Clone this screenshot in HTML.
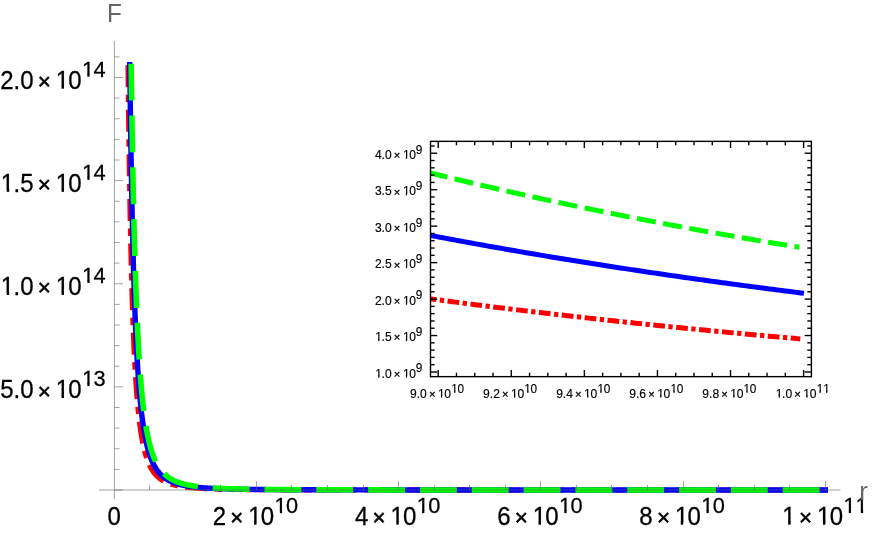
<!DOCTYPE html>
<html><head><meta charset="utf-8"><title>F(r) plot</title>
<style>html,body{margin:0;padding:0;background:#fff;overflow:hidden}body{width:872px;height:533px;font-family:"Liberation Sans",sans-serif}svg{display:block;will-change:transform}text{font-kerning:none;font-variant-ligatures:none}</style></head><body>
<svg width="872" height="533" viewBox="0 0 872 533" font-family="Liberation Sans, sans-serif">
<rect width="872" height="533" fill="#fff"/>
<defs><clipPath id="k0"><rect x="-2" y="-25.20" width="30.24" height="22.82"/></clipPath><clipPath id="k1"><rect x="-2" y="-22.80" width="27.36" height="20.60"/></clipPath><clipPath id="k2"><rect x="-2" y="-12.50" width="15.00" height="11.07"/></clipPath><clipPath id="k3"><rect x="-2" y="-12.00" width="14.40" height="10.60"/></clipPath></defs>
<text transform="translate(0.14,88.70) scale(0.9524,1)" font-size="25.20" fill="#000" stroke="#000" stroke-width="0.30">2.0</text>
<text x="37.70" y="89.20" font-size="22.30" stroke="#000" stroke-width="0.60">×</text>
<text transform="translate(55.68,88.70) scale(0.9524,1)" font-size="25.20" fill="#000" stroke="#000" stroke-width="0.30" clip-path="url(#k0)">1</text>
<rect x="61.56" y="85.52" width="2.42" height="3.18" fill="#000"/>
<text transform="translate(68.30,88.70) scale(0.9524,1)" font-size="25.20" fill="#000" stroke="#000" stroke-width="0.30">0</text>
<text transform="translate(82.01,76.70) scale(0.9561,1)" font-size="22.80" fill="#000" stroke="#000" stroke-width="0.27" clip-path="url(#k1)">1</text>
<rect x="87.35" y="73.70" width="2.20" height="3.00" fill="#000"/>
<text transform="translate(93.48,76.70) scale(0.9561,1)" font-size="22.80" fill="#000" stroke="#000" stroke-width="0.27">4</text>
<text transform="translate(0.86,191.82) scale(0.9524,1)" font-size="25.20" fill="#000" stroke="#000" stroke-width="0.30" clip-path="url(#k0)">1</text>
<rect x="6.75" y="188.64" width="2.42" height="3.18" fill="#000"/>
<text transform="translate(13.49,191.82) scale(0.9524,1)" font-size="25.20" fill="#000" stroke="#000" stroke-width="0.30">.5</text>
<text x="37.70" y="192.32" font-size="22.30" stroke="#000" stroke-width="0.60">×</text>
<text transform="translate(55.68,191.82) scale(0.9524,1)" font-size="25.20" fill="#000" stroke="#000" stroke-width="0.30" clip-path="url(#k0)">1</text>
<rect x="61.56" y="188.64" width="2.42" height="3.18" fill="#000"/>
<text transform="translate(68.30,191.82) scale(0.9524,1)" font-size="25.20" fill="#000" stroke="#000" stroke-width="0.30">0</text>
<text transform="translate(82.01,179.82) scale(0.9561,1)" font-size="22.80" fill="#000" stroke="#000" stroke-width="0.27" clip-path="url(#k1)">1</text>
<rect x="87.35" y="176.82" width="2.20" height="3.00" fill="#000"/>
<text transform="translate(93.48,179.82) scale(0.9561,1)" font-size="22.80" fill="#000" stroke="#000" stroke-width="0.27">4</text>
<text transform="translate(0.86,294.95) scale(0.9524,1)" font-size="25.20" fill="#000" stroke="#000" stroke-width="0.30" clip-path="url(#k0)">1</text>
<rect x="6.75" y="291.77" width="2.42" height="3.18" fill="#000"/>
<text transform="translate(13.49,294.95) scale(0.9524,1)" font-size="25.20" fill="#000" stroke="#000" stroke-width="0.30">.0</text>
<text x="37.70" y="295.45" font-size="22.30" stroke="#000" stroke-width="0.60">×</text>
<text transform="translate(55.68,294.95) scale(0.9524,1)" font-size="25.20" fill="#000" stroke="#000" stroke-width="0.30" clip-path="url(#k0)">1</text>
<rect x="61.56" y="291.77" width="2.42" height="3.18" fill="#000"/>
<text transform="translate(68.30,294.95) scale(0.9524,1)" font-size="25.20" fill="#000" stroke="#000" stroke-width="0.30">0</text>
<text transform="translate(82.01,282.95) scale(0.9561,1)" font-size="22.80" fill="#000" stroke="#000" stroke-width="0.27" clip-path="url(#k1)">1</text>
<rect x="87.35" y="279.95" width="2.20" height="3.00" fill="#000"/>
<text transform="translate(93.48,282.95) scale(0.9561,1)" font-size="22.80" fill="#000" stroke="#000" stroke-width="0.27">4</text>
<text transform="translate(0.14,398.07) scale(0.9524,1)" font-size="25.20" fill="#000" stroke="#000" stroke-width="0.30">5.0</text>
<text x="37.70" y="398.57" font-size="22.30" stroke="#000" stroke-width="0.60">×</text>
<text transform="translate(55.68,398.07) scale(0.9524,1)" font-size="25.20" fill="#000" stroke="#000" stroke-width="0.30" clip-path="url(#k0)">1</text>
<rect x="61.56" y="394.89" width="2.42" height="3.18" fill="#000"/>
<text transform="translate(68.30,398.07) scale(0.9524,1)" font-size="25.20" fill="#000" stroke="#000" stroke-width="0.30">0</text>
<text transform="translate(82.01,386.07) scale(0.9561,1)" font-size="22.80" fill="#000" stroke="#000" stroke-width="0.27" clip-path="url(#k1)">1</text>
<rect x="87.35" y="383.07" width="2.20" height="3.00" fill="#000"/>
<text transform="translate(93.48,386.07) scale(0.9561,1)" font-size="22.80" fill="#000" stroke="#000" stroke-width="0.27">3</text>
<text transform="translate(107.43,524.70) scale(0.9524,1)" font-size="25.20" fill="#000" stroke="#000" stroke-width="0.30">0</text>
<text transform="translate(212.70,524.70) scale(0.9524,1)" font-size="25.20" fill="#000" stroke="#000" stroke-width="0.30">2</text>
<text x="230.24" y="525.20" font-size="22.30" stroke="#000" stroke-width="0.60">×</text>
<text transform="translate(248.22,524.70) scale(0.9524,1)" font-size="25.20" fill="#000" stroke="#000" stroke-width="0.30" clip-path="url(#k0)">1</text>
<rect x="254.10" y="521.52" width="2.42" height="3.18" fill="#000"/>
<text transform="translate(260.84,524.70) scale(0.9524,1)" font-size="25.20" fill="#000" stroke="#000" stroke-width="0.30">0</text>
<text transform="translate(274.55,513.10) scale(0.9561,1)" font-size="22.80" fill="#000" stroke="#000" stroke-width="0.27" clip-path="url(#k1)">1</text>
<rect x="279.89" y="510.10" width="2.20" height="3.00" fill="#000"/>
<text transform="translate(286.02,513.10) scale(0.9561,1)" font-size="22.80" fill="#000" stroke="#000" stroke-width="0.27">0</text>
<text transform="translate(354.92,524.70) scale(0.9524,1)" font-size="25.20" fill="#000" stroke="#000" stroke-width="0.30">4</text>
<text x="372.46" y="525.20" font-size="22.30" stroke="#000" stroke-width="0.60">×</text>
<text transform="translate(390.44,524.70) scale(0.9524,1)" font-size="25.20" fill="#000" stroke="#000" stroke-width="0.30" clip-path="url(#k0)">1</text>
<rect x="396.32" y="521.52" width="2.42" height="3.18" fill="#000"/>
<text transform="translate(403.06,524.70) scale(0.9524,1)" font-size="25.20" fill="#000" stroke="#000" stroke-width="0.30">0</text>
<text transform="translate(416.77,513.10) scale(0.9561,1)" font-size="22.80" fill="#000" stroke="#000" stroke-width="0.27" clip-path="url(#k1)">1</text>
<rect x="422.11" y="510.10" width="2.20" height="3.00" fill="#000"/>
<text transform="translate(428.24,513.10) scale(0.9561,1)" font-size="22.80" fill="#000" stroke="#000" stroke-width="0.27">0</text>
<text transform="translate(497.14,524.70) scale(0.9524,1)" font-size="25.20" fill="#000" stroke="#000" stroke-width="0.30">6</text>
<text x="514.68" y="525.20" font-size="22.30" stroke="#000" stroke-width="0.60">×</text>
<text transform="translate(532.66,524.70) scale(0.9524,1)" font-size="25.20" fill="#000" stroke="#000" stroke-width="0.30" clip-path="url(#k0)">1</text>
<rect x="538.54" y="521.52" width="2.42" height="3.18" fill="#000"/>
<text transform="translate(545.28,524.70) scale(0.9524,1)" font-size="25.20" fill="#000" stroke="#000" stroke-width="0.30">0</text>
<text transform="translate(558.99,513.10) scale(0.9561,1)" font-size="22.80" fill="#000" stroke="#000" stroke-width="0.27" clip-path="url(#k1)">1</text>
<rect x="564.33" y="510.10" width="2.20" height="3.00" fill="#000"/>
<text transform="translate(570.46,513.10) scale(0.9561,1)" font-size="22.80" fill="#000" stroke="#000" stroke-width="0.27">0</text>
<text transform="translate(639.36,524.70) scale(0.9524,1)" font-size="25.20" fill="#000" stroke="#000" stroke-width="0.30">8</text>
<text x="656.90" y="525.20" font-size="22.30" stroke="#000" stroke-width="0.60">×</text>
<text transform="translate(674.88,524.70) scale(0.9524,1)" font-size="25.20" fill="#000" stroke="#000" stroke-width="0.30" clip-path="url(#k0)">1</text>
<rect x="680.76" y="521.52" width="2.42" height="3.18" fill="#000"/>
<text transform="translate(687.50,524.70) scale(0.9524,1)" font-size="25.20" fill="#000" stroke="#000" stroke-width="0.30">0</text>
<text transform="translate(701.21,513.10) scale(0.9561,1)" font-size="22.80" fill="#000" stroke="#000" stroke-width="0.27" clip-path="url(#k1)">1</text>
<rect x="706.55" y="510.10" width="2.20" height="3.00" fill="#000"/>
<text transform="translate(712.68,513.10) scale(0.9561,1)" font-size="22.80" fill="#000" stroke="#000" stroke-width="0.27">0</text>
<text transform="translate(782.30,524.70) scale(0.9524,1)" font-size="25.20" fill="#000" stroke="#000" stroke-width="0.30" clip-path="url(#k0)">1</text>
<rect x="788.18" y="521.52" width="2.42" height="3.18" fill="#000"/>
<text x="799.12" y="525.20" font-size="22.30" stroke="#000" stroke-width="0.60">×</text>
<text transform="translate(817.10,524.70) scale(0.9524,1)" font-size="25.20" fill="#000" stroke="#000" stroke-width="0.30" clip-path="url(#k0)">1</text>
<rect x="822.98" y="521.52" width="2.42" height="3.18" fill="#000"/>
<text transform="translate(829.72,524.70) scale(0.9524,1)" font-size="25.20" fill="#000" stroke="#000" stroke-width="0.30">0</text>
<text transform="translate(843.43,513.10) scale(0.9561,1)" font-size="22.80" fill="#000" stroke="#000" stroke-width="0.27" clip-path="url(#k1)">1</text>
<rect x="848.77" y="510.10" width="2.20" height="3.00" fill="#000"/>
<text transform="translate(855.55,513.10) scale(0.9561,1)" font-size="22.80" fill="#000" stroke="#000" stroke-width="0.27" clip-path="url(#k1)">1</text>
<rect x="860.90" y="510.10" width="2.20" height="3.00" fill="#000"/>
<g fill="none" stroke-linejoin="round">
<path d="M128.03,65.12 L128.35,93.90 L128.67,120.13 L128.99,144.09 L129.32,166.03 L129.64,186.16 L129.96,204.65 L130.28,221.66 L130.61,237.36 L130.93,251.85 L131.25,265.25 L131.57,277.67 L131.90,289.19 L132.22,299.89 L132.54,309.85 L132.86,319.12 L133.18,327.76 L133.51,335.83 L133.83,343.38 L134.15,350.44 L134.47,357.05 L134.80,363.26 L135.12,369.08 L135.44,374.55 L135.76,379.70 L136.09,384.54 L136.41,389.11 L136.73,393.42 L137.05,397.48 L137.37,401.32 L137.70,404.95 L138.02,408.38 L138.34,411.64 L138.66,414.72 L138.99,417.64 L139.31,420.41 L139.63,423.04 L139.95,425.55 L140.27,427.92 L140.60,430.19 L140.92,432.34 L141.24,434.39 L141.56,436.35 L141.89,438.21 L142.21,439.99 L142.53,441.69 L142.85,443.32 L143.18,444.87 L143.50,446.35 L143.82,447.77 L144.14,449.13 L144.46,450.43 L144.79,451.67 L145.11,452.87 L145.43,454.01 L145.75,455.11 L146.08,456.17 L146.40,457.18 L146.72,458.15 L147.04,459.08 L147.37,459.98 L147.69,460.84 L148.01,461.68 L148.33,462.48 L148.65,463.24 L148.98,463.99 L149.30,464.70 L149.62,465.39 L149.94,466.05 L150.27,466.69 L150.59,467.31 L150.91,467.90 L151.23,468.48 L151.55,469.03 L151.88,469.57 L152.20,470.09 L152.52,470.59 L152.84,471.07 L153.17,471.54 L153.49,471.99 L153.81,472.43 L154.13,472.86 L154.46,473.27 L154.78,473.66 L155.10,474.05 L155.42,474.42 L155.74,474.78 L156.07,475.13 L156.39,475.47 L156.71,475.80 L157.03,476.12 L157.36,476.43 L157.68,476.73 L158.00,477.03 L158.32,477.31 L158.65,477.58 L158.97,477.85 L159.29,478.11 L159.61,478.36 L159.93,478.61 L160.26,478.85 L160.58,479.08 L160.90,479.31 L161.22,479.52 L161.55,479.74 L161.87,479.95 L162.19,480.15 L162.51,480.34 L162.83,480.54 L163.16,480.72 L163.48,480.90 L163.80,481.08 L164.12,481.25 L164.45,481.42 L164.77,481.58 L165.09,481.74 L165.41,481.90 L165.74,482.05 L166.06,482.20 L166.38,482.34 L166.70,482.48 L167.02,482.62 L167.35,482.76 L167.67,482.89 L167.99,483.01 L168.31,483.14 L168.64,483.26 L168.96,483.38 L169.28,483.49 L169.60,483.61 L169.93,483.72 L170.25,483.83 L170.57,483.93 L170.89,484.04 L171.21,484.14 L171.54,484.23 L171.86,484.33 L172.18,484.43 L172.50,484.52 L172.83,484.61 L173.15,484.70 L173.47,484.78 L173.79,484.87 L174.11,484.95 L174.44,485.03 L174.76,485.11 L175.08,485.19 L175.40,485.26 L175.73,485.34 L176.05,485.41 L176.37,485.48 L176.69,485.55 L177.02,485.62 L177.34,485.69 L177.66,485.75 L177.98,485.82 L178.30,485.88 L178.63,485.94 L178.95,486.00 L179.27,486.06 L179.59,486.12 L179.92,486.18 L180.24,486.23 L180.56,486.29 L180.88,486.34 L181.21,486.39 L181.53,486.44 L181.85,486.50 L182.17,486.55 L182.49,486.59 L182.82,486.64 L183.14,486.69 L183.46,486.74 L183.78,486.78 L184.11,486.82 L184.43,486.87 L184.75,486.91 L185.07,486.95 L185.39,486.99 L185.72,487.04 L186.04,487.08 L186.36,487.11 L186.68,487.15 L187.01,487.19 L187.33,487.23 L187.65,487.26 L187.97,487.30 L188.30,487.33 L188.62,487.37 L188.94,487.40 L189.26,487.44 L189.58,487.47 L189.91,487.50 L190.23,487.53 L190.55,487.56 L190.87,487.60 L191.20,487.63 L191.52,487.66 L191.84,487.68 L192.16,487.71 L192.49,487.74 L192.81,487.77 L193.13,487.80 L193.45,487.82 L193.77,487.85 L194.10,487.88 L194.42,487.90 L194.74,487.93 L195.06,487.95 L195.39,487.98 L195.71,488.00 L196.03,488.02 L196.35,488.05 L196.67,488.07 L197.00,488.09 L197.32,488.11 L197.64,488.14 L197.96,488.16 L198.29,488.18 L198.61,488.20 L198.93,488.22 L199.25,488.24 L199.58,488.26 L199.90,488.28 L200.22,488.30 L200.54,488.32 L200.86,488.34 L201.19,488.35 L201.51,488.37 L201.83,488.39 L202.15,488.41 L202.48,488.43 L202.80,488.44 L203.12,488.46 L203.44,488.48 L203.77,488.49 L204.09,488.51 L204.41,488.53 L204.73,488.54 L205.05,488.56 L205.38,488.57 L205.70,488.59 L206.02,488.60 L206.34,488.62 L206.67,488.63 L206.99,488.65 L207.31,488.66 L207.63,488.67 L207.95,488.69 L208.28,488.70 L208.60,488.71 L208.92,488.73 L209.24,488.74 L209.57,488.75 L209.89,488.76 L210.21,488.78 L210.53,488.79 L210.86,488.80 L211.18,488.81 L211.50,488.83 L211.82,488.84 L212.14,488.85 L212.47,488.86 L212.79,488.87 L213.11,488.88 L213.43,488.89 L213.76,488.90 L214.08,488.91 L214.40,488.92 L214.72,488.93 L215.05,488.95 L215.37,488.96 L215.69,488.97 L216.01,488.98 L216.33,488.98 L216.66,488.99 L216.98,489.00 L217.30,489.01 L217.62,489.02 L217.95,489.03 L218.27,489.04 L218.59,489.05 L218.91,489.06 L219.23,489.07 L219.56,489.08 L219.88,489.08 L220.20,489.09 L220.52,489.10 L220.85,489.11 L221.17,489.12 L221.49,489.12 L221.81,489.13 L222.14,489.14 L222.46,489.15 L222.78,489.16 L223.10,489.16 L223.42,489.17 L223.75,489.18 L224.07,489.18 L224.39,489.19 L224.71,489.20 L225.04,489.21 L225.36,489.21 L225.68,489.22 L226.00,489.23 L226.33,489.23 L226.65,489.24 L226.97,489.25 L227.29,489.25 L227.61,489.26 L227.94,489.27 L228.26,489.27 L228.58,489.28 L228.90,489.28 L229.23,489.29 L229.55,489.30 L229.87,489.30 L230.19,489.31 L230.51,489.31 L230.84,489.32 L231.16,489.32 L231.48,489.33 L231.80,489.34 L232.13,489.34 L232.45,489.35 L232.77,489.35 L233.09,489.36 L233.42,489.36 L233.74,489.37 L234.06,489.37 L234.38,489.38 L234.70,489.38 L235.03,489.39 L235.35,489.39 L235.67,489.40 L235.99,489.40 L236.32,489.41 L236.64,489.41 L236.96,489.42 L237.28,489.42 L237.61,489.43 L237.93,489.43 L238.25,489.43 L238.57,489.44 L238.89,489.44 L239.22,489.45 L239.54,489.45 L239.86,489.46 L240.18,489.46 L240.51,489.46 L240.83,489.47 L241.15,489.47 L241.47,489.48 L241.79,489.48 L242.12,489.48 L242.44,489.49 L242.76,489.49 L243.08,489.50 L243.41,489.50 L243.73,489.50 L244.05,489.51 L244.37,489.51 L244.70,489.51 L245.02,489.52 L245.34,489.52 L245.66,489.52 L245.98,489.53 L246.31,489.53 L246.63,489.53 L246.95,489.54 L247.27,489.54 L247.60,489.54 L247.92,489.55 L248.24,489.55 L248.56,489.55 L248.89,489.56 L249.21,489.56 L249.53,489.56 L249.85,489.57 L250.17,489.57 L250.50,489.57 L250.82,489.58 L251.14,489.58 L251.46,489.58 L251.79,489.59 L252.11,489.59 L252.43,489.59 L252.75,489.59 L253.07,489.60 L253.40,489.60 L253.72,489.60 L254.04,489.61 L254.36,489.61 L254.69,489.61 L255.01,489.61 L255.33,489.62 L255.65,489.62 L255.98,489.62 L256.30,489.62 L256.62,489.63 L259.49,489.65 L262.36,489.67 L265.23,489.69 L268.10,489.70 L270.98,489.72 L273.85,489.73 L276.72,489.75 L279.59,489.76 L282.46,489.77 L285.33,489.78 L288.20,489.80 L291.07,489.81 L293.95,489.81 L296.82,489.82 L299.69,489.83 L302.56,489.84 L305.43,489.85 L308.30,489.85 L311.17,489.86 L314.04,489.86 L316.92,489.87 L319.79,489.88 L322.66,489.88 L325.53,489.89 L328.40,489.89 L331.27,489.89 L334.14,489.90 L337.01,489.90 L339.88,489.91 L342.76,489.91 L345.63,489.91 L348.50,489.92 L351.37,489.92 L354.24,489.92 L357.11,489.92 L359.98,489.93 L362.85,489.93 L365.73,489.93 L368.60,489.93 L371.47,489.94 L374.34,489.94 L377.21,489.94 L380.08,489.94 L382.95,489.94 L385.82,489.95 L388.70,489.95 L391.57,489.95 L394.44,489.95 L397.31,489.95 L400.18,489.95 L403.05,489.96 L405.92,489.96 L408.79,489.96 L411.66,489.96 L414.54,489.96 L417.41,489.96 L420.28,489.96 L423.15,489.96 L426.02,489.96 L428.89,489.97 L431.76,489.97 L434.63,489.97 L437.51,489.97 L440.38,489.97 L443.25,489.97 L446.12,489.97 L448.99,489.97 L451.86,489.97 L454.73,489.97 L457.60,489.97 L460.48,489.97 L463.35,489.97 L466.22,489.98 L469.09,489.98 L471.96,489.98 L474.83,489.98 L477.70,489.98 L480.57,489.98 L483.44,489.98 L486.32,489.98 L489.19,489.98 L492.06,489.98 L494.93,489.98 L497.80,489.98 L500.67,489.98 L503.54,489.98 L506.41,489.98 L509.29,489.98 L512.16,489.98 L515.03,489.98 L517.90,489.98 L520.77,489.98 L523.64,489.98 L526.51,489.98 L529.38,489.98 L532.26,489.99 L535.13,489.99 L538.00,489.99 L540.87,489.99 L543.74,489.99 L546.61,489.99 L549.48,489.99 L552.35,489.99 L555.22,489.99 L558.10,489.99 L560.97,489.99 L563.84,489.99 L566.71,489.99 L569.58,489.99 L572.45,489.99 L575.32,489.99 L578.19,489.99 L581.07,489.99 L583.94,489.99 L586.81,489.99 L589.68,489.99 L592.55,489.99 L595.42,489.99 L598.29,489.99 L601.16,489.99 L604.04,489.99 L606.91,489.99 L609.78,489.99 L612.65,489.99 L615.52,489.99 L618.39,489.99 L621.26,489.99 L624.13,489.99 L627.00,489.99 L629.88,489.99 L632.75,489.99 L635.62,489.99 L638.49,489.99 L641.36,489.99 L644.23,489.99 L647.10,489.99 L649.97,489.99 L652.85,489.99 L655.72,489.99 L658.59,489.99 L661.46,489.99 L664.33,489.99 L667.20,489.99 L670.07,489.99 L672.94,489.99 L675.82,489.99 L678.69,489.99 L681.56,489.99 L684.43,489.99 L687.30,489.99 L690.17,489.99 L693.04,489.99 L695.91,489.99 L698.78,489.99 L701.66,489.99 L704.53,489.99 L707.40,489.99 L710.27,489.99 L713.14,489.99 L716.01,490.00 L718.88,490.00 L721.75,490.00 L724.63,490.00 L727.50,490.00 L730.37,490.00 L733.24,490.00 L736.11,490.00 L738.98,490.00 L741.85,490.00 L744.72,490.00 L747.60,490.00 L750.47,490.00 L753.34,490.00 L756.21,490.00 L759.08,490.00 L761.95,490.00 L764.82,490.00 L767.69,490.00 L770.56,490.00 L773.44,490.00 L776.31,490.00 L779.18,490.00 L782.05,490.00 L784.92,490.00 L787.79,490.00 L790.66,490.00 L793.53,490.00 L796.41,490.00 L799.28,490.00 L802.15,490.00 L805.02,490.00 L807.89,490.00 L810.76,490.00 L813.63,490.00 L816.50,490.00 L819.38,490.00 L822.25,490.00 L825.12,490.00 L827.99,490.00" stroke="#f00" stroke-width="5.2" stroke-dasharray="22 7.6 7.4 7.6"/>
<path d="M129.73,62.03 L130.05,87.59 L130.37,111.16 L130.69,132.92 L131.00,153.05 L131.32,171.69 L131.64,188.98 L131.96,205.04 L132.28,219.98 L132.59,233.89 L132.91,246.87 L133.23,258.98 L133.55,270.30 L133.87,280.89 L134.18,290.81 L134.50,300.12 L134.82,308.85 L135.14,317.06 L135.46,324.77 L135.77,332.04 L136.09,338.89 L136.41,345.34 L136.73,351.43 L137.05,357.19 L137.36,362.63 L137.68,367.78 L138.00,372.65 L138.32,377.27 L138.64,381.65 L138.95,385.81 L139.27,389.75 L139.59,393.50 L139.91,397.07 L140.23,400.46 L140.54,403.69 L140.86,406.76 L141.18,409.69 L141.50,412.48 L141.82,415.15 L142.14,417.70 L142.45,420.13 L142.77,422.45 L143.09,424.67 L143.41,426.80 L143.73,428.83 L144.04,430.78 L144.36,432.64 L144.68,434.43 L145.00,436.15 L145.32,437.79 L145.63,439.37 L145.95,440.89 L146.27,442.34 L146.59,443.74 L146.91,445.09 L147.22,446.38 L147.54,447.62 L147.86,448.82 L148.18,449.97 L148.50,451.08 L148.81,452.15 L149.13,453.18 L149.45,454.17 L149.77,455.13 L150.09,456.05 L150.40,456.95 L150.72,457.81 L151.04,458.64 L151.36,459.44 L151.68,460.22 L151.99,460.97 L152.31,461.69 L152.63,462.39 L152.95,463.07 L153.27,463.72 L153.58,464.36 L153.90,464.97 L154.22,465.57 L154.54,466.14 L154.86,466.70 L155.17,467.24 L155.49,467.77 L155.81,468.28 L156.13,468.77 L156.45,469.25 L156.76,469.71 L157.08,470.16 L157.40,470.60 L157.72,471.02 L158.04,471.43 L158.35,471.83 L158.67,472.22 L158.99,472.60 L159.31,472.97 L159.63,473.32 L159.94,473.67 L160.26,474.01 L160.58,474.34 L160.90,474.66 L161.22,474.97 L161.53,475.27 L161.85,475.56 L162.17,475.85 L162.49,476.13 L162.81,476.40 L163.12,476.66 L163.44,476.92 L163.76,477.17 L164.08,477.42 L164.40,477.66 L164.71,477.89 L165.03,478.12 L165.35,478.34 L165.67,478.55 L165.99,478.76 L166.30,478.97 L166.62,479.17 L166.94,479.36 L167.26,479.55 L167.58,479.74 L167.89,479.92 L168.21,480.10 L168.53,480.27 L168.85,480.44 L169.17,480.61 L169.48,480.77 L169.80,480.93 L170.12,481.08 L170.44,481.23 L170.76,481.38 L171.07,481.53 L171.39,481.67 L171.71,481.80 L172.03,481.94 L172.35,482.07 L172.66,482.20 L172.98,482.33 L173.30,482.45 L173.62,482.57 L173.94,482.69 L174.25,482.81 L174.57,482.92 L174.89,483.03 L175.21,483.14 L175.53,483.25 L175.84,483.35 L176.16,483.45 L176.48,483.55 L176.80,483.65 L177.12,483.75 L177.43,483.84 L177.75,483.93 L178.07,484.02 L178.39,484.11 L178.71,484.20 L179.02,484.28 L179.34,484.37 L179.66,484.45 L179.98,484.53 L180.30,484.61 L180.61,484.69 L180.93,484.76 L181.25,484.84 L181.57,484.91 L181.89,484.98 L182.20,485.05 L182.52,485.12 L182.84,485.19 L183.16,485.25 L183.48,485.32 L183.79,485.38 L184.11,485.45 L184.43,485.51 L184.75,485.57 L185.07,485.63 L185.38,485.69 L185.70,485.74 L186.02,485.80 L186.34,485.86 L186.66,485.91 L186.97,485.96 L187.29,486.02 L187.61,486.07 L187.93,486.12 L188.25,486.17 L188.57,486.22 L188.88,486.27 L189.20,486.31 L189.52,486.36 L189.84,486.41 L190.16,486.45 L190.47,486.50 L190.79,486.54 L191.11,486.58 L191.43,486.62 L191.75,486.67 L192.06,486.71 L192.38,486.75 L192.70,486.79 L193.02,486.83 L193.34,486.86 L193.65,486.90 L193.97,486.94 L194.29,486.97 L194.61,487.01 L194.93,487.05 L195.24,487.08 L195.56,487.11 L195.88,487.15 L196.20,487.18 L196.52,487.21 L196.83,487.25 L197.15,487.28 L197.47,487.31 L197.79,487.34 L198.11,487.37 L198.42,487.40 L198.74,487.43 L199.06,487.46 L199.38,487.49 L199.70,487.51 L200.01,487.54 L200.33,487.57 L200.65,487.60 L200.97,487.62 L201.29,487.65 L201.60,487.67 L201.92,487.70 L202.24,487.72 L202.56,487.75 L202.88,487.77 L203.19,487.80 L203.51,487.82 L203.83,487.84 L204.15,487.87 L204.47,487.89 L204.78,487.91 L205.10,487.93 L205.42,487.95 L205.74,487.98 L206.06,488.00 L206.37,488.02 L206.69,488.04 L207.01,488.06 L207.33,488.08 L207.65,488.10 L207.96,488.12 L208.28,488.14 L208.60,488.15 L208.92,488.17 L209.24,488.19 L209.55,488.21 L209.87,488.23 L210.19,488.24 L210.51,488.26 L210.83,488.28 L211.14,488.30 L211.46,488.31 L211.78,488.33 L212.10,488.35 L212.42,488.36 L212.73,488.38 L213.05,488.39 L213.37,488.41 L213.69,488.42 L214.01,488.44 L214.32,488.45 L214.64,488.47 L214.96,488.48 L215.28,488.50 L215.60,488.51 L215.91,488.53 L216.23,488.54 L216.55,488.55 L216.87,488.57 L217.19,488.58 L217.50,488.59 L217.82,488.61 L218.14,488.62 L218.46,488.63 L218.78,488.64 L219.09,488.66 L219.41,488.67 L219.73,488.68 L220.05,488.69 L220.37,488.70 L220.68,488.72 L221.00,488.73 L221.32,488.74 L221.64,488.75 L221.96,488.76 L222.27,488.77 L222.59,488.78 L222.91,488.79 L223.23,488.80 L223.55,488.81 L223.86,488.82 L224.18,488.83 L224.50,488.84 L224.82,488.85 L225.14,488.86 L225.45,488.87 L225.77,488.88 L226.09,488.89 L226.41,488.90 L226.73,488.91 L227.04,488.92 L227.36,488.93 L227.68,488.94 L228.00,488.95 L228.32,488.96 L228.63,488.97 L228.95,488.97 L229.27,488.98 L229.59,488.99 L229.91,489.00 L230.22,489.01 L230.54,489.02 L230.86,489.02 L231.18,489.03 L231.50,489.04 L231.81,489.05 L232.13,489.05 L232.45,489.06 L232.77,489.07 L233.09,489.08 L233.40,489.08 L233.72,489.09 L234.04,489.10 L234.36,489.11 L234.68,489.11 L235.00,489.12 L235.31,489.13 L235.63,489.13 L235.95,489.14 L236.27,489.15 L236.59,489.15 L236.90,489.16 L237.22,489.17 L237.54,489.17 L237.86,489.18 L238.18,489.19 L238.49,489.19 L238.81,489.20 L239.13,489.21 L239.45,489.21 L239.77,489.22 L240.08,489.22 L240.40,489.23 L240.72,489.23 L241.04,489.24 L241.36,489.25 L241.67,489.25 L241.99,489.26 L242.31,489.26 L242.63,489.27 L242.95,489.27 L243.26,489.28 L243.58,489.28 L243.90,489.29 L244.22,489.29 L244.54,489.30 L244.85,489.31 L245.17,489.31 L245.49,489.32 L245.81,489.32 L246.13,489.33 L246.44,489.33 L246.76,489.33 L247.08,489.34 L247.40,489.34 L247.72,489.35 L248.03,489.35 L248.35,489.36 L248.67,489.36 L248.99,489.37 L249.31,489.37 L249.62,489.38 L249.94,489.38 L250.26,489.38 L250.58,489.39 L250.90,489.39 L251.21,489.40 L251.53,489.40 L251.85,489.41 L252.17,489.41 L252.49,489.41 L252.80,489.42 L253.12,489.42 L253.44,489.43 L253.76,489.43 L254.08,489.43 L254.39,489.44 L254.71,489.44 L255.03,489.45 L255.35,489.45 L255.67,489.45 L255.98,489.46 L256.30,489.46 L256.62,489.46 L259.49,489.49 L262.36,489.52 L265.23,489.55 L268.10,489.58 L270.98,489.60 L273.85,489.62 L276.72,489.64 L279.59,489.66 L282.46,489.68 L285.33,489.69 L288.20,489.71 L291.07,489.72 L293.95,489.73 L296.82,489.75 L299.69,489.76 L302.56,489.77 L305.43,489.78 L308.30,489.79 L311.17,489.80 L314.04,489.81 L316.92,489.81 L319.79,489.82 L322.66,489.83 L325.53,489.84 L328.40,489.84 L331.27,489.85 L334.14,489.85 L337.01,489.86 L339.88,489.87 L342.76,489.87 L345.63,489.88 L348.50,489.88 L351.37,489.88 L354.24,489.89 L357.11,489.89 L359.98,489.90 L362.85,489.90 L365.73,489.90 L368.60,489.91 L371.47,489.91 L374.34,489.91 L377.21,489.92 L380.08,489.92 L382.95,489.92 L385.82,489.92 L388.70,489.93 L391.57,489.93 L394.44,489.93 L397.31,489.93 L400.18,489.93 L403.05,489.94 L405.92,489.94 L408.79,489.94 L411.66,489.94 L414.54,489.94 L417.41,489.94 L420.28,489.95 L423.15,489.95 L426.02,489.95 L428.89,489.95 L431.76,489.95 L434.63,489.95 L437.51,489.95 L440.38,489.96 L443.25,489.96 L446.12,489.96 L448.99,489.96 L451.86,489.96 L454.73,489.96 L457.60,489.96 L460.48,489.96 L463.35,489.96 L466.22,489.96 L469.09,489.97 L471.96,489.97 L474.83,489.97 L477.70,489.97 L480.57,489.97 L483.44,489.97 L486.32,489.97 L489.19,489.97 L492.06,489.97 L494.93,489.97 L497.80,489.97 L500.67,489.97 L503.54,489.97 L506.41,489.97 L509.29,489.97 L512.16,489.98 L515.03,489.98 L517.90,489.98 L520.77,489.98 L523.64,489.98 L526.51,489.98 L529.38,489.98 L532.26,489.98 L535.13,489.98 L538.00,489.98 L540.87,489.98 L543.74,489.98 L546.61,489.98 L549.48,489.98 L552.35,489.98 L555.22,489.98 L558.10,489.98 L560.97,489.98 L563.84,489.98 L566.71,489.98 L569.58,489.98 L572.45,489.98 L575.32,489.98 L578.19,489.98 L581.07,489.98 L583.94,489.99 L586.81,489.99 L589.68,489.99 L592.55,489.99 L595.42,489.99 L598.29,489.99 L601.16,489.99 L604.04,489.99 L606.91,489.99 L609.78,489.99 L612.65,489.99 L615.52,489.99 L618.39,489.99 L621.26,489.99 L624.13,489.99 L627.00,489.99 L629.88,489.99 L632.75,489.99 L635.62,489.99 L638.49,489.99 L641.36,489.99 L644.23,489.99 L647.10,489.99 L649.97,489.99 L652.85,489.99 L655.72,489.99 L658.59,489.99 L661.46,489.99 L664.33,489.99 L667.20,489.99 L670.07,489.99 L672.94,489.99 L675.82,489.99 L678.69,489.99 L681.56,489.99 L684.43,489.99 L687.30,489.99 L690.17,489.99 L693.04,489.99 L695.91,489.99 L698.78,489.99 L701.66,489.99 L704.53,489.99 L707.40,489.99 L710.27,489.99 L713.14,489.99 L716.01,489.99 L718.88,489.99 L721.75,489.99 L724.63,489.99 L727.50,489.99 L730.37,489.99 L733.24,489.99 L736.11,489.99 L738.98,489.99 L741.85,489.99 L744.72,489.99 L747.60,489.99 L750.47,489.99 L753.34,489.99 L756.21,489.99 L759.08,489.99 L761.95,489.99 L764.82,489.99 L767.69,489.99 L770.56,489.99 L773.44,489.99 L776.31,489.99 L779.18,489.99 L782.05,489.99 L784.92,489.99 L787.79,489.99 L790.66,490.00 L793.53,490.00 L796.41,490.00 L799.28,490.00 L802.15,490.00 L805.02,490.00 L807.89,490.00 L810.76,490.00 L813.63,490.00 L816.50,490.00 L819.38,490.00 L822.25,490.00 L825.12,490.00 L827.99,490.00" stroke="#00f" stroke-width="5.4"/>
<path d="M131.15,63.68 L131.46,86.82 L131.78,108.32 L132.09,128.31 L132.40,146.94 L132.72,164.30 L133.03,180.51 L133.35,195.67 L133.66,209.85 L133.98,223.13 L134.29,235.59 L134.61,247.29 L134.92,258.27 L135.24,268.61 L135.55,278.34 L135.86,287.51 L136.18,296.15 L136.49,304.31 L136.81,312.02 L137.12,319.31 L137.44,326.20 L137.75,332.73 L138.07,338.92 L138.38,344.79 L138.69,350.35 L139.01,355.64 L139.32,360.66 L139.64,365.43 L139.95,369.98 L140.27,374.30 L140.58,378.42 L140.90,382.35 L141.21,386.09 L141.52,389.66 L141.84,393.07 L142.15,396.33 L142.47,399.44 L142.78,402.42 L143.10,405.27 L143.41,407.99 L143.73,410.60 L144.04,413.10 L144.35,415.50 L144.67,417.80 L144.98,420.00 L145.30,422.12 L145.61,424.15 L145.93,426.10 L146.24,427.97 L146.56,429.78 L146.87,431.51 L147.18,433.18 L147.50,434.78 L147.81,436.33 L148.13,437.81 L148.44,439.25 L148.76,440.63 L149.07,441.96 L149.39,443.24 L149.70,444.48 L150.02,445.68 L150.33,446.83 L150.64,447.94 L150.96,449.02 L151.27,450.06 L151.59,451.06 L151.90,452.03 L152.22,452.97 L152.53,453.88 L152.85,454.76 L153.16,455.61 L153.47,456.44 L153.79,457.23 L154.10,458.01 L154.42,458.75 L154.73,459.48 L155.05,460.18 L155.36,460.86 L155.68,461.52 L155.99,462.17 L156.30,462.79 L156.62,463.39 L156.93,463.98 L157.25,464.55 L157.56,465.10 L157.88,465.63 L158.19,466.16 L158.51,466.66 L158.82,467.15 L159.13,467.63 L159.45,468.10 L159.76,468.55 L160.08,468.99 L160.39,469.42 L160.71,469.83 L161.02,470.24 L161.34,470.63 L161.65,471.02 L161.96,471.39 L162.28,471.76 L162.59,472.11 L162.91,472.46 L163.22,472.79 L163.54,473.12 L163.85,473.44 L164.17,473.75 L164.48,474.06 L164.80,474.35 L165.11,474.64 L165.42,474.93 L165.74,475.20 L166.05,475.47 L166.37,475.73 L166.68,475.99 L167.00,476.24 L167.31,476.48 L167.63,476.72 L167.94,476.95 L168.25,477.18 L168.57,477.40 L168.88,477.62 L169.20,477.83 L169.51,478.04 L169.83,478.24 L170.14,478.44 L170.46,478.63 L170.77,478.82 L171.08,479.01 L171.40,479.19 L171.71,479.36 L172.03,479.54 L172.34,479.71 L172.66,479.87 L172.97,480.03 L173.29,480.19 L173.60,480.35 L173.91,480.50 L174.23,480.65 L174.54,480.80 L174.86,480.94 L175.17,481.08 L175.49,481.22 L175.80,481.35 L176.12,481.48 L176.43,481.61 L176.74,481.74 L177.06,481.86 L177.37,481.98 L177.69,482.10 L178.00,482.22 L178.32,482.33 L178.63,482.44 L178.95,482.55 L179.26,482.66 L179.58,482.77 L179.89,482.87 L180.20,482.97 L180.52,483.07 L180.83,483.17 L181.15,483.27 L181.46,483.36 L181.78,483.45 L182.09,483.54 L182.41,483.63 L182.72,483.72 L183.03,483.81 L183.35,483.89 L183.66,483.97 L183.98,484.06 L184.29,484.14 L184.61,484.21 L184.92,484.29 L185.24,484.37 L185.55,484.44 L185.86,484.51 L186.18,484.59 L186.49,484.66 L186.81,484.73 L187.12,484.79 L187.44,484.86 L187.75,484.93 L188.07,484.99 L188.38,485.05 L188.69,485.12 L189.01,485.18 L189.32,485.24 L189.64,485.30 L189.95,485.36 L190.27,485.41 L190.58,485.47 L190.90,485.53 L191.21,485.58 L191.53,485.64 L191.84,485.69 L192.15,485.74 L192.47,485.79 L192.78,485.84 L193.10,485.89 L193.41,485.94 L193.73,485.99 L194.04,486.04 L194.36,486.08 L194.67,486.13 L194.98,486.17 L195.30,486.22 L195.61,486.26 L195.93,486.30 L196.24,486.35 L196.56,486.39 L196.87,486.43 L197.19,486.47 L197.50,486.51 L197.81,486.55 L198.13,486.59 L198.44,486.63 L198.76,486.66 L199.07,486.70 L199.39,486.74 L199.70,486.77 L200.02,486.81 L200.33,486.84 L200.64,486.88 L200.96,486.91 L201.27,486.95 L201.59,486.98 L201.90,487.01 L202.22,487.04 L202.53,487.07 L202.85,487.11 L203.16,487.14 L203.47,487.17 L203.79,487.20 L204.10,487.23 L204.42,487.25 L204.73,487.28 L205.05,487.31 L205.36,487.34 L205.68,487.37 L205.99,487.39 L206.31,487.42 L206.62,487.45 L206.93,487.47 L207.25,487.50 L207.56,487.52 L207.88,487.55 L208.19,487.57 L208.51,487.60 L208.82,487.62 L209.14,487.64 L209.45,487.67 L209.76,487.69 L210.08,487.71 L210.39,487.74 L210.71,487.76 L211.02,487.78 L211.34,487.80 L211.65,487.82 L211.97,487.84 L212.28,487.86 L212.59,487.89 L212.91,487.91 L213.22,487.93 L213.54,487.94 L213.85,487.96 L214.17,487.98 L214.48,488.00 L214.80,488.02 L215.11,488.04 L215.42,488.06 L215.74,488.08 L216.05,488.09 L216.37,488.11 L216.68,488.13 L217.00,488.15 L217.31,488.16 L217.63,488.18 L217.94,488.20 L218.25,488.21 L218.57,488.23 L218.88,488.24 L219.20,488.26 L219.51,488.28 L219.83,488.29 L220.14,488.31 L220.46,488.32 L220.77,488.34 L221.09,488.35 L221.40,488.37 L221.71,488.38 L222.03,488.39 L222.34,488.41 L222.66,488.42 L222.97,488.44 L223.29,488.45 L223.60,488.46 L223.92,488.48 L224.23,488.49 L224.54,488.50 L224.86,488.51 L225.17,488.53 L225.49,488.54 L225.80,488.55 L226.12,488.56 L226.43,488.58 L226.75,488.59 L227.06,488.60 L227.37,488.61 L227.69,488.62 L228.00,488.63 L228.32,488.65 L228.63,488.66 L228.95,488.67 L229.26,488.68 L229.58,488.69 L229.89,488.70 L230.20,488.71 L230.52,488.72 L230.83,488.73 L231.15,488.74 L231.46,488.75 L231.78,488.76 L232.09,488.77 L232.41,488.78 L232.72,488.79 L233.03,488.80 L233.35,488.81 L233.66,488.82 L233.98,488.83 L234.29,488.84 L234.61,488.85 L234.92,488.86 L235.24,488.87 L235.55,488.87 L235.87,488.88 L236.18,488.89 L236.49,488.90 L236.81,488.91 L237.12,488.92 L237.44,488.92 L237.75,488.93 L238.07,488.94 L238.38,488.95 L238.70,488.96 L239.01,488.97 L239.32,488.97 L239.64,488.98 L239.95,488.99 L240.27,489.00 L240.58,489.00 L240.90,489.01 L241.21,489.02 L241.53,489.03 L241.84,489.03 L242.15,489.04 L242.47,489.05 L242.78,489.05 L243.10,489.06 L243.41,489.07 L243.73,489.07 L244.04,489.08 L244.36,489.09 L244.67,489.09 L244.98,489.10 L245.30,489.11 L245.61,489.11 L245.93,489.12 L246.24,489.13 L246.56,489.13 L246.87,489.14 L247.19,489.14 L247.50,489.15 L247.81,489.16 L248.13,489.16 L248.44,489.17 L248.76,489.17 L249.07,489.18 L249.39,489.19 L249.70,489.19 L250.02,489.20 L250.33,489.20 L250.65,489.21 L250.96,489.21 L251.27,489.22 L251.59,489.22 L251.90,489.23 L252.22,489.24 L252.53,489.24 L252.85,489.25 L253.16,489.25 L253.48,489.26 L253.79,489.26 L254.10,489.27 L254.42,489.27 L254.73,489.28 L255.05,489.28 L255.36,489.29 L255.68,489.29 L255.99,489.29 L256.31,489.30 L256.62,489.30 L259.49,489.34 L262.36,489.38 L265.23,489.42 L268.10,489.45 L270.98,489.48 L273.85,489.51 L276.72,489.53 L279.59,489.56 L282.46,489.58 L285.33,489.60 L288.20,489.62 L291.07,489.64 L293.95,489.65 L296.82,489.67 L299.69,489.69 L302.56,489.70 L305.43,489.71 L308.30,489.73 L311.17,489.74 L314.04,489.75 L316.92,489.76 L319.79,489.77 L322.66,489.78 L325.53,489.79 L328.40,489.80 L331.27,489.80 L334.14,489.81 L337.01,489.82 L339.88,489.83 L342.76,489.83 L345.63,489.84 L348.50,489.84 L351.37,489.85 L354.24,489.85 L357.11,489.86 L359.98,489.86 L362.85,489.87 L365.73,489.87 L368.60,489.88 L371.47,489.88 L374.34,489.89 L377.21,489.89 L380.08,489.89 L382.95,489.90 L385.82,489.90 L388.70,489.90 L391.57,489.91 L394.44,489.91 L397.31,489.91 L400.18,489.91 L403.05,489.92 L405.92,489.92 L408.79,489.92 L411.66,489.92 L414.54,489.93 L417.41,489.93 L420.28,489.93 L423.15,489.93 L426.02,489.93 L428.89,489.94 L431.76,489.94 L434.63,489.94 L437.51,489.94 L440.38,489.94 L443.25,489.94 L446.12,489.95 L448.99,489.95 L451.86,489.95 L454.73,489.95 L457.60,489.95 L460.48,489.95 L463.35,489.95 L466.22,489.95 L469.09,489.96 L471.96,489.96 L474.83,489.96 L477.70,489.96 L480.57,489.96 L483.44,489.96 L486.32,489.96 L489.19,489.96 L492.06,489.96 L494.93,489.96 L497.80,489.96 L500.67,489.97 L503.54,489.97 L506.41,489.97 L509.29,489.97 L512.16,489.97 L515.03,489.97 L517.90,489.97 L520.77,489.97 L523.64,489.97 L526.51,489.97 L529.38,489.97 L532.26,489.97 L535.13,489.97 L538.00,489.97 L540.87,489.97 L543.74,489.97 L546.61,489.98 L549.48,489.98 L552.35,489.98 L555.22,489.98 L558.10,489.98 L560.97,489.98 L563.84,489.98 L566.71,489.98 L569.58,489.98 L572.45,489.98 L575.32,489.98 L578.19,489.98 L581.07,489.98 L583.94,489.98 L586.81,489.98 L589.68,489.98 L592.55,489.98 L595.42,489.98 L598.29,489.98 L601.16,489.98 L604.04,489.98 L606.91,489.98 L609.78,489.98 L612.65,489.98 L615.52,489.98 L618.39,489.98 L621.26,489.98 L624.13,489.98 L627.00,489.99 L629.88,489.99 L632.75,489.99 L635.62,489.99 L638.49,489.99 L641.36,489.99 L644.23,489.99 L647.10,489.99 L649.97,489.99 L652.85,489.99 L655.72,489.99 L658.59,489.99 L661.46,489.99 L664.33,489.99 L667.20,489.99 L670.07,489.99 L672.94,489.99 L675.82,489.99 L678.69,489.99 L681.56,489.99 L684.43,489.99 L687.30,489.99 L690.17,489.99 L693.04,489.99 L695.91,489.99 L698.78,489.99 L701.66,489.99 L704.53,489.99 L707.40,489.99 L710.27,489.99 L713.14,489.99 L716.01,489.99 L718.88,489.99 L721.75,489.99 L724.63,489.99 L727.50,489.99 L730.37,489.99 L733.24,489.99 L736.11,489.99 L738.98,489.99 L741.85,489.99 L744.72,489.99 L747.60,489.99 L750.47,489.99 L753.34,489.99 L756.21,489.99 L759.08,489.99 L761.95,489.99 L764.82,489.99 L767.69,489.99 L770.56,489.99 L773.44,489.99 L776.31,489.99 L779.18,489.99 L782.05,489.99 L784.92,489.99 L787.79,489.99 L790.66,489.99 L793.53,489.99 L796.41,489.99 L799.28,489.99 L802.15,489.99 L805.02,489.99 L807.89,489.99 L810.76,489.99 L813.63,489.99 L816.50,489.99 L819.38,489.99 L822.25,489.99 L825.12,489.99 L827.99,489.99" stroke="#0f0" stroke-width="5.550000000000001" stroke-dasharray="36.9 14.92"/>
</g>
<g stroke="#666" stroke-width="1" fill="none" stroke-opacity="0.6">
<line x1="114.4" y1="41" x2="114.4" y2="499"/>
<line x1="99" y1="490.0" x2="840.5" y2="490.0"/>
<line x1="114.4" y1="490.00" x2="123.0" y2="490.00"/>
<line x1="114.4" y1="469.38" x2="119.60000000000001" y2="469.38"/>
<line x1="114.4" y1="448.75" x2="119.60000000000001" y2="448.75"/>
<line x1="114.4" y1="428.12" x2="119.60000000000001" y2="428.12"/>
<line x1="114.4" y1="407.50" x2="119.60000000000001" y2="407.50"/>
<line x1="114.4" y1="386.88" x2="123.0" y2="386.88"/>
<line x1="114.4" y1="366.25" x2="119.60000000000001" y2="366.25"/>
<line x1="114.4" y1="345.62" x2="119.60000000000001" y2="345.62"/>
<line x1="114.4" y1="325.00" x2="119.60000000000001" y2="325.00"/>
<line x1="114.4" y1="304.38" x2="119.60000000000001" y2="304.38"/>
<line x1="114.4" y1="283.75" x2="123.0" y2="283.75"/>
<line x1="114.4" y1="263.12" x2="119.60000000000001" y2="263.12"/>
<line x1="114.4" y1="242.50" x2="119.60000000000001" y2="242.50"/>
<line x1="114.4" y1="221.88" x2="119.60000000000001" y2="221.88"/>
<line x1="114.4" y1="201.25" x2="119.60000000000001" y2="201.25"/>
<line x1="114.4" y1="180.62" x2="123.0" y2="180.62"/>
<line x1="114.4" y1="160.00" x2="119.60000000000001" y2="160.00"/>
<line x1="114.4" y1="139.38" x2="119.60000000000001" y2="139.38"/>
<line x1="114.4" y1="118.75" x2="119.60000000000001" y2="118.75"/>
<line x1="114.4" y1="98.12" x2="119.60000000000001" y2="98.12"/>
<line x1="114.4" y1="77.50" x2="123.0" y2="77.50"/>
<line x1="114.4" y1="56.88" x2="119.60000000000001" y2="56.88"/>
<line x1="149.50" y1="490.0" x2="149.50" y2="485.0"/>
<line x1="185.50" y1="490.0" x2="185.50" y2="485.0"/>
<line x1="220.50" y1="490.0" x2="220.50" y2="485.0"/>
<line x1="256.50" y1="490.0" x2="256.50" y2="481.2"/>
<line x1="291.50" y1="490.0" x2="291.50" y2="485.0"/>
<line x1="327.50" y1="490.0" x2="327.50" y2="485.0"/>
<line x1="363.50" y1="490.0" x2="363.50" y2="485.0"/>
<line x1="398.50" y1="490.0" x2="398.50" y2="481.2"/>
<line x1="434.50" y1="490.0" x2="434.50" y2="485.0"/>
<line x1="469.50" y1="490.0" x2="469.50" y2="485.0"/>
<line x1="505.50" y1="490.0" x2="505.50" y2="485.0"/>
<line x1="540.50" y1="490.0" x2="540.50" y2="481.2"/>
<line x1="576.50" y1="490.0" x2="576.50" y2="485.0"/>
<line x1="611.50" y1="490.0" x2="611.50" y2="485.0"/>
<line x1="647.50" y1="490.0" x2="647.50" y2="485.0"/>
<line x1="683.50" y1="490.0" x2="683.50" y2="481.2"/>
<line x1="718.50" y1="490.0" x2="718.50" y2="485.0"/>
<line x1="754.50" y1="490.0" x2="754.50" y2="485.0"/>
<line x1="789.50" y1="490.0" x2="789.50" y2="485.0"/>
<line x1="825.50" y1="490.0" x2="825.50" y2="481.2"/>
</g>
<rect x="430.5" y="141.35" width="380.9" height="235.3" fill="#fff"/>
<clipPath id="ic"><rect x="430.5" y="141.35" width="380.9" height="235.3"/></clipPath>
<g fill="none" stroke-width="5.0" clip-path="url(#ic)">
<path d="M430.50,298.86 L433.61,299.27 L436.72,299.68 L439.82,300.09 L442.93,300.50 L446.04,300.91 L449.15,301.32 L452.25,301.72 L455.36,302.13 L458.47,302.53 L461.58,302.93 L464.68,303.33 L467.79,303.73 L470.90,304.12 L474.01,304.52 L477.11,304.91 L480.22,305.30 L483.33,305.69 L486.44,306.08 L489.55,306.47 L492.65,306.85 L495.76,307.24 L498.87,307.62 L501.98,308.00 L505.08,308.38 L508.19,308.76 L511.30,309.14 L514.41,309.51 L517.51,309.89 L520.62,310.26 L523.73,310.63 L526.84,311.00 L529.95,311.37 L533.05,311.74 L536.16,312.11 L539.27,312.47 L542.38,312.83 L545.48,313.20 L548.59,313.56 L551.70,313.92 L554.81,314.28 L557.91,314.63 L561.02,314.99 L564.13,315.34 L567.24,315.70 L570.34,316.05 L573.45,316.40 L576.56,316.75 L579.67,317.10 L582.78,317.44 L585.88,317.79 L588.99,318.13 L592.10,318.48 L595.21,318.82 L598.31,319.16 L601.42,319.50 L604.53,319.84 L607.64,320.17 L610.74,320.51 L613.85,320.84 L616.96,321.18 L620.07,321.51 L623.17,321.84 L626.28,322.17 L629.39,322.50 L632.50,322.82 L635.61,323.15 L638.71,323.48 L641.82,323.80 L644.93,324.12 L648.04,324.44 L651.14,324.77 L654.25,325.08 L657.36,325.40 L660.47,325.72 L663.57,326.04 L666.68,326.35 L669.79,326.66 L672.90,326.98 L676.01,327.29 L679.11,327.60 L682.22,327.91 L685.33,328.22 L688.44,328.52 L691.54,328.83 L694.65,329.13 L697.76,329.44 L700.87,329.74 L703.97,330.04 L707.08,330.34 L710.19,330.64 L713.30,330.94 L716.40,331.24 L719.51,331.54 L722.62,331.83 L725.73,332.13 L728.84,332.42 L731.94,332.71 L735.05,333.00 L738.16,333.30 L741.27,333.58 L744.37,333.87 L747.48,334.16 L750.59,334.45 L753.70,334.73 L756.80,335.02 L759.91,335.30 L763.02,335.58 L766.13,335.87 L769.23,336.15 L772.34,336.43 L775.45,336.70 L778.56,336.98 L781.67,337.26 L784.77,337.53 L787.88,337.81 L790.99,338.08 L794.10,338.36 L797.20,338.63 L800.31,338.90" stroke="#f00" stroke-dasharray="11.75 3.47 4.32 3.47" stroke-dashoffset="5.8"/>
<path d="M430.50,235.39 L433.64,235.99 L436.78,236.59 L439.92,237.19 L443.05,237.78 L446.19,238.37 L449.33,238.96 L452.47,239.55 L455.61,240.13 L458.75,240.71 L461.88,241.29 L465.02,241.87 L468.16,242.45 L471.30,243.02 L474.44,243.59 L477.58,244.16 L480.71,244.73 L483.85,245.29 L486.99,245.86 L490.13,246.42 L493.27,246.97 L496.41,247.53 L499.54,248.08 L502.68,248.64 L505.82,249.19 L508.96,249.74 L512.10,250.28 L515.24,250.83 L518.37,251.37 L521.51,251.91 L524.65,252.44 L527.79,252.98 L530.93,253.51 L534.07,254.05 L537.20,254.58 L540.34,255.10 L543.48,255.63 L546.62,256.15 L549.76,256.68 L552.90,257.20 L556.03,257.72 L559.17,258.23 L562.31,258.75 L565.45,259.26 L568.59,259.77 L571.73,260.28 L574.86,260.79 L578.00,261.29 L581.14,261.79 L584.28,262.30 L587.42,262.80 L590.56,263.29 L593.69,263.79 L596.83,264.28 L599.97,264.78 L603.11,265.27 L606.25,265.76 L609.39,266.24 L612.53,266.73 L615.66,267.21 L618.80,267.69 L621.94,268.17 L625.08,268.65 L628.22,269.13 L631.36,269.60 L634.49,270.08 L637.63,270.55 L640.77,271.02 L643.91,271.49 L647.05,271.95 L650.19,272.42 L653.32,272.88 L656.46,273.34 L659.60,273.80 L662.74,274.26 L665.88,274.72 L669.02,275.17 L672.15,275.63 L675.29,276.08 L678.43,276.53 L681.57,276.98 L684.71,277.42 L687.85,277.87 L690.98,278.31 L694.12,278.75 L697.26,279.19 L700.40,279.63 L703.54,280.07 L706.68,280.51 L709.81,280.94 L712.95,281.37 L716.09,281.81 L719.23,282.24 L722.37,282.66 L725.51,283.09 L728.64,283.52 L731.78,283.94 L734.92,284.36 L738.06,284.78 L741.20,285.20 L744.34,285.62 L747.47,286.04 L750.61,286.45 L753.75,286.87 L756.89,287.28 L760.03,287.69 L763.17,288.10 L766.31,288.51 L769.44,288.91 L772.58,289.32 L775.72,289.72 L778.86,290.12 L782.00,290.52 L785.14,290.92 L788.27,291.32 L791.41,291.72 L794.55,292.11 L797.69,292.51 L800.83,292.90 L803.97,293.29" stroke="#00f"/>
<path d="M430.50,172.94 L433.60,173.71 L436.70,174.48 L439.80,175.24 L442.89,176.00 L445.99,176.76 L449.09,177.51 L452.19,178.26 L455.29,179.01 L458.39,179.76 L461.48,180.50 L464.58,181.24 L467.68,181.98 L470.78,182.72 L473.88,183.45 L476.98,184.18 L480.08,184.91 L483.17,185.63 L486.27,186.35 L489.37,187.07 L492.47,187.79 L495.57,188.50 L498.67,189.21 L501.76,189.92 L504.86,190.63 L507.96,191.33 L511.06,192.03 L514.16,192.73 L517.26,193.42 L520.35,194.12 L523.45,194.81 L526.55,195.49 L529.65,196.18 L532.75,196.86 L535.85,197.54 L538.95,198.22 L542.04,198.90 L545.14,199.57 L548.24,200.24 L551.34,200.91 L554.44,201.57 L557.54,202.24 L560.63,202.90 L563.73,203.55 L566.83,204.21 L569.93,204.86 L573.03,205.52 L576.13,206.16 L579.23,206.81 L582.32,207.46 L585.42,208.10 L588.52,208.74 L591.62,209.37 L594.72,210.01 L597.82,210.64 L600.91,211.27 L604.01,211.90 L607.11,212.53 L610.21,213.15 L613.31,213.77 L616.41,214.39 L619.51,215.01 L622.60,215.62 L625.70,216.23 L628.80,216.85 L631.90,217.45 L635.00,218.06 L638.10,218.66 L641.19,219.27 L644.29,219.86 L647.39,220.46 L650.49,221.06 L653.59,221.65 L656.69,222.24 L659.79,222.83 L662.88,223.42 L665.98,224.00 L669.08,224.59 L672.18,225.17 L675.28,225.75 L678.38,226.32 L681.47,226.90 L684.57,227.47 L687.67,228.04 L690.77,228.61 L693.87,229.18 L696.97,229.74 L700.06,230.30 L703.16,230.87 L706.26,231.42 L709.36,231.98 L712.46,232.54 L715.56,233.09 L718.66,233.64 L721.75,234.19 L724.85,234.74 L727.95,235.28 L731.05,235.83 L734.15,236.37 L737.25,236.91 L740.34,237.45 L743.44,237.98 L746.54,238.52 L749.64,239.05 L752.74,239.58 L755.84,240.11 L758.94,240.64 L762.03,241.16 L765.13,241.68 L768.23,242.21 L771.33,242.73 L774.43,243.24 L777.53,243.76 L780.62,244.27 L783.72,244.79 L786.82,245.30 L789.92,245.81 L793.02,246.32 L796.12,246.82 L799.22,247.33" stroke="#0f0" stroke-dasharray="19.2 7.46" stroke-dashoffset="1.9"/>
</g>
<g stroke="#000" stroke-width="1.4" fill="none">
<rect x="430.5" y="141.35" width="380.9" height="235.3"/>
<line x1="430.5" y1="372.00" x2="437.2" y2="372.00"/>
<line x1="811.4" y1="372.00" x2="804.6999999999999" y2="372.00"/>
<line x1="430.5" y1="364.71" x2="434.6" y2="364.71"/>
<line x1="811.4" y1="364.71" x2="807.3" y2="364.71"/>
<line x1="430.5" y1="357.42" x2="434.6" y2="357.42"/>
<line x1="811.4" y1="357.42" x2="807.3" y2="357.42"/>
<line x1="430.5" y1="350.12" x2="434.6" y2="350.12"/>
<line x1="811.4" y1="350.12" x2="807.3" y2="350.12"/>
<line x1="430.5" y1="342.83" x2="434.6" y2="342.83"/>
<line x1="811.4" y1="342.83" x2="807.3" y2="342.83"/>
<line x1="430.5" y1="335.54" x2="437.2" y2="335.54"/>
<line x1="811.4" y1="335.54" x2="804.6999999999999" y2="335.54"/>
<line x1="430.5" y1="328.25" x2="434.6" y2="328.25"/>
<line x1="811.4" y1="328.25" x2="807.3" y2="328.25"/>
<line x1="430.5" y1="320.96" x2="434.6" y2="320.96"/>
<line x1="811.4" y1="320.96" x2="807.3" y2="320.96"/>
<line x1="430.5" y1="313.66" x2="434.6" y2="313.66"/>
<line x1="811.4" y1="313.66" x2="807.3" y2="313.66"/>
<line x1="430.5" y1="306.37" x2="434.6" y2="306.37"/>
<line x1="811.4" y1="306.37" x2="807.3" y2="306.37"/>
<line x1="430.5" y1="299.08" x2="437.2" y2="299.08"/>
<line x1="811.4" y1="299.08" x2="804.6999999999999" y2="299.08"/>
<line x1="430.5" y1="291.79" x2="434.6" y2="291.79"/>
<line x1="811.4" y1="291.79" x2="807.3" y2="291.79"/>
<line x1="430.5" y1="284.50" x2="434.6" y2="284.50"/>
<line x1="811.4" y1="284.50" x2="807.3" y2="284.50"/>
<line x1="430.5" y1="277.20" x2="434.6" y2="277.20"/>
<line x1="811.4" y1="277.20" x2="807.3" y2="277.20"/>
<line x1="430.5" y1="269.91" x2="434.6" y2="269.91"/>
<line x1="811.4" y1="269.91" x2="807.3" y2="269.91"/>
<line x1="430.5" y1="262.62" x2="437.2" y2="262.62"/>
<line x1="811.4" y1="262.62" x2="804.6999999999999" y2="262.62"/>
<line x1="430.5" y1="255.33" x2="434.6" y2="255.33"/>
<line x1="811.4" y1="255.33" x2="807.3" y2="255.33"/>
<line x1="430.5" y1="248.04" x2="434.6" y2="248.04"/>
<line x1="811.4" y1="248.04" x2="807.3" y2="248.04"/>
<line x1="430.5" y1="240.74" x2="434.6" y2="240.74"/>
<line x1="811.4" y1="240.74" x2="807.3" y2="240.74"/>
<line x1="430.5" y1="233.45" x2="434.6" y2="233.45"/>
<line x1="811.4" y1="233.45" x2="807.3" y2="233.45"/>
<line x1="430.5" y1="226.16" x2="437.2" y2="226.16"/>
<line x1="811.4" y1="226.16" x2="804.6999999999999" y2="226.16"/>
<line x1="430.5" y1="218.87" x2="434.6" y2="218.87"/>
<line x1="811.4" y1="218.87" x2="807.3" y2="218.87"/>
<line x1="430.5" y1="211.58" x2="434.6" y2="211.58"/>
<line x1="811.4" y1="211.58" x2="807.3" y2="211.58"/>
<line x1="430.5" y1="204.28" x2="434.6" y2="204.28"/>
<line x1="811.4" y1="204.28" x2="807.3" y2="204.28"/>
<line x1="430.5" y1="196.99" x2="434.6" y2="196.99"/>
<line x1="811.4" y1="196.99" x2="807.3" y2="196.99"/>
<line x1="430.5" y1="189.70" x2="437.2" y2="189.70"/>
<line x1="811.4" y1="189.70" x2="804.6999999999999" y2="189.70"/>
<line x1="430.5" y1="182.41" x2="434.6" y2="182.41"/>
<line x1="811.4" y1="182.41" x2="807.3" y2="182.41"/>
<line x1="430.5" y1="175.12" x2="434.6" y2="175.12"/>
<line x1="811.4" y1="175.12" x2="807.3" y2="175.12"/>
<line x1="430.5" y1="167.82" x2="434.6" y2="167.82"/>
<line x1="811.4" y1="167.82" x2="807.3" y2="167.82"/>
<line x1="430.5" y1="160.53" x2="434.6" y2="160.53"/>
<line x1="811.4" y1="160.53" x2="807.3" y2="160.53"/>
<line x1="430.5" y1="153.24" x2="437.2" y2="153.24"/>
<line x1="811.4" y1="153.24" x2="804.6999999999999" y2="153.24"/>
<line x1="430.5" y1="145.95" x2="434.6" y2="145.95"/>
<line x1="811.4" y1="145.95" x2="807.3" y2="145.95"/>
<line x1="438.20" y1="376.7" x2="438.20" y2="370.0"/>
<line x1="438.20" y1="141.35" x2="438.20" y2="148.04999999999998"/>
<line x1="456.47" y1="376.7" x2="456.47" y2="372.7"/>
<line x1="456.47" y1="141.35" x2="456.47" y2="145.35"/>
<line x1="474.74" y1="376.7" x2="474.74" y2="372.7"/>
<line x1="474.74" y1="141.35" x2="474.74" y2="145.35"/>
<line x1="493.01" y1="376.7" x2="493.01" y2="372.7"/>
<line x1="493.01" y1="141.35" x2="493.01" y2="145.35"/>
<line x1="511.28" y1="376.7" x2="511.28" y2="370.0"/>
<line x1="511.28" y1="141.35" x2="511.28" y2="148.04999999999998"/>
<line x1="529.55" y1="376.7" x2="529.55" y2="372.7"/>
<line x1="529.55" y1="141.35" x2="529.55" y2="145.35"/>
<line x1="547.82" y1="376.7" x2="547.82" y2="372.7"/>
<line x1="547.82" y1="141.35" x2="547.82" y2="145.35"/>
<line x1="566.09" y1="376.7" x2="566.09" y2="372.7"/>
<line x1="566.09" y1="141.35" x2="566.09" y2="145.35"/>
<line x1="584.36" y1="376.7" x2="584.36" y2="370.0"/>
<line x1="584.36" y1="141.35" x2="584.36" y2="148.04999999999998"/>
<line x1="602.63" y1="376.7" x2="602.63" y2="372.7"/>
<line x1="602.63" y1="141.35" x2="602.63" y2="145.35"/>
<line x1="620.90" y1="376.7" x2="620.90" y2="372.7"/>
<line x1="620.90" y1="141.35" x2="620.90" y2="145.35"/>
<line x1="639.17" y1="376.7" x2="639.17" y2="372.7"/>
<line x1="639.17" y1="141.35" x2="639.17" y2="145.35"/>
<line x1="657.44" y1="376.7" x2="657.44" y2="370.0"/>
<line x1="657.44" y1="141.35" x2="657.44" y2="148.04999999999998"/>
<line x1="675.71" y1="376.7" x2="675.71" y2="372.7"/>
<line x1="675.71" y1="141.35" x2="675.71" y2="145.35"/>
<line x1="693.98" y1="376.7" x2="693.98" y2="372.7"/>
<line x1="693.98" y1="141.35" x2="693.98" y2="145.35"/>
<line x1="712.25" y1="376.7" x2="712.25" y2="372.7"/>
<line x1="712.25" y1="141.35" x2="712.25" y2="145.35"/>
<line x1="730.52" y1="376.7" x2="730.52" y2="370.0"/>
<line x1="730.52" y1="141.35" x2="730.52" y2="148.04999999999998"/>
<line x1="748.79" y1="376.7" x2="748.79" y2="372.7"/>
<line x1="748.79" y1="141.35" x2="748.79" y2="145.35"/>
<line x1="767.06" y1="376.7" x2="767.06" y2="372.7"/>
<line x1="767.06" y1="141.35" x2="767.06" y2="145.35"/>
<line x1="785.33" y1="376.7" x2="785.33" y2="372.7"/>
<line x1="785.33" y1="141.35" x2="785.33" y2="145.35"/>
<line x1="803.60" y1="376.7" x2="803.60" y2="370.0"/>
<line x1="803.60" y1="141.35" x2="803.60" y2="148.04999999999998"/>
</g>
<text transform="translate(375.26,377.65) scale(0.9680,1)" font-size="12.50" fill="#000" stroke="#000" stroke-width="0.15" clip-path="url(#k2)">1</text>
<rect x="378.23" y="375.42" width="1.22" height="2.23" fill="#000"/>
<text transform="translate(381.62,377.65) scale(0.9680,1)" font-size="12.50" fill="#000" stroke="#000" stroke-width="0.15">.0</text>
<text x="393.83" y="377.90" font-size="11.24" stroke="#000" stroke-width="0.30">×</text>
<text transform="translate(402.89,377.65) scale(0.9680,1)" font-size="12.50" fill="#000" stroke="#000" stroke-width="0.15" clip-path="url(#k2)">1</text>
<rect x="405.86" y="375.42" width="1.22" height="2.23" fill="#000"/>
<text transform="translate(409.26,377.65) scale(0.9680,1)" font-size="12.50" fill="#000" stroke="#000" stroke-width="0.15">0</text>
<text transform="translate(415.84,372.35) scale(0.9833,1)" font-size="12.00" fill="#000" stroke="#000" stroke-width="0.14">9</text>
<text transform="translate(375.26,341.19) scale(0.9680,1)" font-size="12.50" fill="#000" stroke="#000" stroke-width="0.15" clip-path="url(#k2)">1</text>
<rect x="378.23" y="338.96" width="1.22" height="2.23" fill="#000"/>
<text transform="translate(381.62,341.19) scale(0.9680,1)" font-size="12.50" fill="#000" stroke="#000" stroke-width="0.15">.5</text>
<text x="393.83" y="341.44" font-size="11.24" stroke="#000" stroke-width="0.30">×</text>
<text transform="translate(402.89,341.19) scale(0.9680,1)" font-size="12.50" fill="#000" stroke="#000" stroke-width="0.15" clip-path="url(#k2)">1</text>
<rect x="405.86" y="338.96" width="1.22" height="2.23" fill="#000"/>
<text transform="translate(409.26,341.19) scale(0.9680,1)" font-size="12.50" fill="#000" stroke="#000" stroke-width="0.15">0</text>
<text transform="translate(415.84,335.89) scale(0.9833,1)" font-size="12.00" fill="#000" stroke="#000" stroke-width="0.14">9</text>
<text transform="translate(374.89,304.73) scale(0.9680,1)" font-size="12.50" fill="#000" stroke="#000" stroke-width="0.15">2.0</text>
<text x="393.83" y="304.98" font-size="11.24" stroke="#000" stroke-width="0.30">×</text>
<text transform="translate(402.89,304.73) scale(0.9680,1)" font-size="12.50" fill="#000" stroke="#000" stroke-width="0.15" clip-path="url(#k2)">1</text>
<rect x="405.86" y="302.50" width="1.22" height="2.23" fill="#000"/>
<text transform="translate(409.26,304.73) scale(0.9680,1)" font-size="12.50" fill="#000" stroke="#000" stroke-width="0.15">0</text>
<text transform="translate(415.84,299.43) scale(0.9833,1)" font-size="12.00" fill="#000" stroke="#000" stroke-width="0.14">9</text>
<text transform="translate(374.89,268.27) scale(0.9680,1)" font-size="12.50" fill="#000" stroke="#000" stroke-width="0.15">2.5</text>
<text x="393.83" y="268.52" font-size="11.24" stroke="#000" stroke-width="0.30">×</text>
<text transform="translate(402.89,268.27) scale(0.9680,1)" font-size="12.50" fill="#000" stroke="#000" stroke-width="0.15" clip-path="url(#k2)">1</text>
<rect x="405.86" y="266.04" width="1.22" height="2.23" fill="#000"/>
<text transform="translate(409.26,268.27) scale(0.9680,1)" font-size="12.50" fill="#000" stroke="#000" stroke-width="0.15">0</text>
<text transform="translate(415.84,262.97) scale(0.9833,1)" font-size="12.00" fill="#000" stroke="#000" stroke-width="0.14">9</text>
<text transform="translate(374.89,231.81) scale(0.9680,1)" font-size="12.50" fill="#000" stroke="#000" stroke-width="0.15">3.0</text>
<text x="393.83" y="232.06" font-size="11.24" stroke="#000" stroke-width="0.30">×</text>
<text transform="translate(402.89,231.81) scale(0.9680,1)" font-size="12.50" fill="#000" stroke="#000" stroke-width="0.15" clip-path="url(#k2)">1</text>
<rect x="405.86" y="229.58" width="1.22" height="2.23" fill="#000"/>
<text transform="translate(409.26,231.81) scale(0.9680,1)" font-size="12.50" fill="#000" stroke="#000" stroke-width="0.15">0</text>
<text transform="translate(415.84,226.51) scale(0.9833,1)" font-size="12.00" fill="#000" stroke="#000" stroke-width="0.14">9</text>
<text transform="translate(374.89,195.35) scale(0.9680,1)" font-size="12.50" fill="#000" stroke="#000" stroke-width="0.15">3.5</text>
<text x="393.83" y="195.60" font-size="11.24" stroke="#000" stroke-width="0.30">×</text>
<text transform="translate(402.89,195.35) scale(0.9680,1)" font-size="12.50" fill="#000" stroke="#000" stroke-width="0.15" clip-path="url(#k2)">1</text>
<rect x="405.86" y="193.12" width="1.22" height="2.23" fill="#000"/>
<text transform="translate(409.26,195.35) scale(0.9680,1)" font-size="12.50" fill="#000" stroke="#000" stroke-width="0.15">0</text>
<text transform="translate(415.84,190.05) scale(0.9833,1)" font-size="12.00" fill="#000" stroke="#000" stroke-width="0.14">9</text>
<text transform="translate(374.89,158.89) scale(0.9680,1)" font-size="12.50" fill="#000" stroke="#000" stroke-width="0.15">4.0</text>
<text x="393.83" y="159.14" font-size="11.24" stroke="#000" stroke-width="0.30">×</text>
<text transform="translate(402.89,158.89) scale(0.9680,1)" font-size="12.50" fill="#000" stroke="#000" stroke-width="0.15" clip-path="url(#k2)">1</text>
<rect x="405.86" y="156.66" width="1.22" height="2.23" fill="#000"/>
<text transform="translate(409.26,158.89) scale(0.9680,1)" font-size="12.50" fill="#000" stroke="#000" stroke-width="0.15">0</text>
<text transform="translate(415.84,153.59) scale(0.9833,1)" font-size="12.00" fill="#000" stroke="#000" stroke-width="0.14">9</text>
<text transform="translate(409.97,397.60) scale(0.9680,1)" font-size="12.50" fill="#000" stroke="#000" stroke-width="0.15">9.0</text>
<text x="428.90" y="397.85" font-size="11.24" stroke="#000" stroke-width="0.30">×</text>
<text transform="translate(437.96,397.60) scale(0.9680,1)" font-size="12.50" fill="#000" stroke="#000" stroke-width="0.15" clip-path="url(#k2)">1</text>
<rect x="440.93" y="395.37" width="1.22" height="2.23" fill="#000"/>
<text transform="translate(444.33,397.60) scale(0.9680,1)" font-size="12.50" fill="#000" stroke="#000" stroke-width="0.15">0</text>
<text transform="translate(451.26,392.90) scale(0.9833,1)" font-size="12.00" fill="#000" stroke="#000" stroke-width="0.14" clip-path="url(#k3)">1</text>
<rect x="454.16" y="390.70" width="1.19" height="2.20" fill="#000"/>
<text transform="translate(457.47,392.90) scale(0.9833,1)" font-size="12.00" fill="#000" stroke="#000" stroke-width="0.14">0</text>
<text transform="translate(483.05,397.60) scale(0.9680,1)" font-size="12.50" fill="#000" stroke="#000" stroke-width="0.15">9.2</text>
<text x="501.98" y="397.85" font-size="11.24" stroke="#000" stroke-width="0.30">×</text>
<text transform="translate(511.04,397.60) scale(0.9680,1)" font-size="12.50" fill="#000" stroke="#000" stroke-width="0.15" clip-path="url(#k2)">1</text>
<rect x="514.01" y="395.37" width="1.22" height="2.23" fill="#000"/>
<text transform="translate(517.41,397.60) scale(0.9680,1)" font-size="12.50" fill="#000" stroke="#000" stroke-width="0.15">0</text>
<text transform="translate(524.34,392.90) scale(0.9833,1)" font-size="12.00" fill="#000" stroke="#000" stroke-width="0.14" clip-path="url(#k3)">1</text>
<rect x="527.24" y="390.70" width="1.19" height="2.20" fill="#000"/>
<text transform="translate(530.55,392.90) scale(0.9833,1)" font-size="12.00" fill="#000" stroke="#000" stroke-width="0.14">0</text>
<text transform="translate(556.13,397.60) scale(0.9680,1)" font-size="12.50" fill="#000" stroke="#000" stroke-width="0.15">9.4</text>
<text x="575.06" y="397.85" font-size="11.24" stroke="#000" stroke-width="0.30">×</text>
<text transform="translate(584.12,397.60) scale(0.9680,1)" font-size="12.50" fill="#000" stroke="#000" stroke-width="0.15" clip-path="url(#k2)">1</text>
<rect x="587.09" y="395.37" width="1.22" height="2.23" fill="#000"/>
<text transform="translate(590.49,397.60) scale(0.9680,1)" font-size="12.50" fill="#000" stroke="#000" stroke-width="0.15">0</text>
<text transform="translate(597.42,392.90) scale(0.9833,1)" font-size="12.00" fill="#000" stroke="#000" stroke-width="0.14" clip-path="url(#k3)">1</text>
<rect x="600.32" y="390.70" width="1.19" height="2.20" fill="#000"/>
<text transform="translate(603.63,392.90) scale(0.9833,1)" font-size="12.00" fill="#000" stroke="#000" stroke-width="0.14">0</text>
<text transform="translate(629.21,397.60) scale(0.9680,1)" font-size="12.50" fill="#000" stroke="#000" stroke-width="0.15">9.6</text>
<text x="648.14" y="397.85" font-size="11.24" stroke="#000" stroke-width="0.30">×</text>
<text transform="translate(657.20,397.60) scale(0.9680,1)" font-size="12.50" fill="#000" stroke="#000" stroke-width="0.15" clip-path="url(#k2)">1</text>
<rect x="660.17" y="395.37" width="1.22" height="2.23" fill="#000"/>
<text transform="translate(663.57,397.60) scale(0.9680,1)" font-size="12.50" fill="#000" stroke="#000" stroke-width="0.15">0</text>
<text transform="translate(670.50,392.90) scale(0.9833,1)" font-size="12.00" fill="#000" stroke="#000" stroke-width="0.14" clip-path="url(#k3)">1</text>
<rect x="673.40" y="390.70" width="1.19" height="2.20" fill="#000"/>
<text transform="translate(676.71,392.90) scale(0.9833,1)" font-size="12.00" fill="#000" stroke="#000" stroke-width="0.14">0</text>
<text transform="translate(702.29,397.60) scale(0.9680,1)" font-size="12.50" fill="#000" stroke="#000" stroke-width="0.15">9.8</text>
<text x="721.22" y="397.85" font-size="11.24" stroke="#000" stroke-width="0.30">×</text>
<text transform="translate(730.28,397.60) scale(0.9680,1)" font-size="12.50" fill="#000" stroke="#000" stroke-width="0.15" clip-path="url(#k2)">1</text>
<rect x="733.25" y="395.37" width="1.22" height="2.23" fill="#000"/>
<text transform="translate(736.65,397.60) scale(0.9680,1)" font-size="12.50" fill="#000" stroke="#000" stroke-width="0.15">0</text>
<text transform="translate(743.58,392.90) scale(0.9833,1)" font-size="12.00" fill="#000" stroke="#000" stroke-width="0.14" clip-path="url(#k3)">1</text>
<rect x="746.48" y="390.70" width="1.19" height="2.20" fill="#000"/>
<text transform="translate(749.79,392.90) scale(0.9833,1)" font-size="12.00" fill="#000" stroke="#000" stroke-width="0.14">0</text>
<text transform="translate(775.73,397.60) scale(0.9680,1)" font-size="12.50" fill="#000" stroke="#000" stroke-width="0.15" clip-path="url(#k2)">1</text>
<rect x="778.70" y="395.37" width="1.22" height="2.23" fill="#000"/>
<text transform="translate(782.10,397.60) scale(0.9680,1)" font-size="12.50" fill="#000" stroke="#000" stroke-width="0.15">.0</text>
<text x="794.30" y="397.85" font-size="11.24" stroke="#000" stroke-width="0.30">×</text>
<text transform="translate(803.36,397.60) scale(0.9680,1)" font-size="12.50" fill="#000" stroke="#000" stroke-width="0.15" clip-path="url(#k2)">1</text>
<rect x="806.33" y="395.37" width="1.22" height="2.23" fill="#000"/>
<text transform="translate(809.73,397.60) scale(0.9680,1)" font-size="12.50" fill="#000" stroke="#000" stroke-width="0.15">0</text>
<text transform="translate(816.66,392.90) scale(0.9833,1)" font-size="12.00" fill="#000" stroke="#000" stroke-width="0.14" clip-path="url(#k3)">1</text>
<rect x="819.56" y="390.70" width="1.19" height="2.20" fill="#000"/>
<text transform="translate(823.23,392.90) scale(0.9833,1)" font-size="12.00" fill="#000" stroke="#000" stroke-width="0.14" clip-path="url(#k3)">1</text>
<rect x="826.12" y="390.70" width="1.19" height="2.20" fill="#000"/>
<text transform="translate(107,21.9) scale(0.95,1)" font-size="25.6" fill="#666">F</text>
<text x="859.3" y="500.0" font-size="25.6" fill="#666">r</text>
</svg>
</body></html>
